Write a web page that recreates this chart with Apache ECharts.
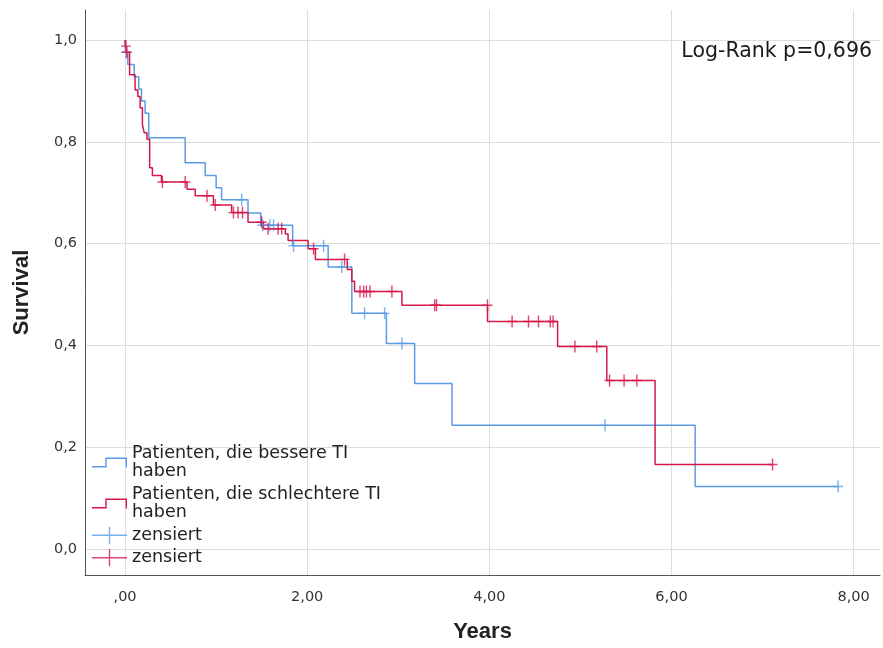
<!DOCTYPE html>
<html><head><meta charset="utf-8">
<script src="https://cdn.jsdelivr.net/npm/echarts@6/dist/echarts.min.js"></script>
<style>html,body{margin:0;padding:0;background:#fff}#c{width:883px;height:648px}</style>
</head><body><div id="c"></div>
<script>
// ---- axis ticks ----
const xTicks = [0, 2, 4, 6, 8];
const xTickLabels = [',00', '2,00', '4,00', '6,00', '8,00'];
const yTicks = [0, 0.2, 0.4, 0.6, 0.8, 1.0];
const yTickLabels = ['0,0', '0,2', '0,4', '0,6', '0,8', '1,0'];

// ---- legend ----
const seriesNames = ['better', 'worse', 'zensiert', 'zensiert '];
const legendLabels = ['Patienten, die bessere TI\nhaben', 'Patienten, die schlechtere TI\nhaben', 'zensiert', 'zensiert'];

// ---- group 1: Patienten, die bessere TI haben (step change times / survival) ----
const betterTimes = [0, 0.004, 0.03, 0.10, 0.15, 0.18, 0.22, 0.26, 0.66, 0.88, 1.00, 1.06, 1.35, 1.49, 1.84, 2.23, 2.49, 2.87, 3.18, 3.59, 6.26, 7.83];
const betterSurv  = [1.0, 0.976, 0.952, 0.928, 0.904, 0.880, 0.856, 0.808, 0.759, 0.734, 0.710, 0.686, 0.660, 0.636, 0.596, 0.554, 0.463, 0.404, 0.325, 0.243, 0.123, 0.123];
const betterCensTimes = [0.01, 1.28, 1.51, 1.59, 1.63, 1.85, 2.18, 2.38, 2.63, 2.85, 3.04, 5.27, 7.83];
const betterCensSurv  = [0.976, 0.686, 0.636, 0.636, 0.636, 0.596, 0.596, 0.554, 0.463, 0.463, 0.404, 0.243, 0.123];

// ---- group 2: Patienten, die schlechtere TI haben ----
const worseTimes = [0, 0.005, 0.02, 0.05, 0.11, 0.14, 0.165, 0.19, 0.21, 0.24, 0.27, 0.30, 0.40, 0.68, 0.77, 0.97, 1.17, 1.35, 1.52, 1.76, 1.79, 2.01, 2.09, 2.44, 2.49, 2.52, 3.04, 3.98, 4.75, 5.29, 5.82, 7.11];
const worseSurv  = [1.0, 0.988, 0.976, 0.932, 0.902, 0.889, 0.867, 0.834, 0.818, 0.805, 0.749, 0.734, 0.721, 0.707, 0.694, 0.676, 0.661, 0.642, 0.629, 0.619, 0.606, 0.590, 0.569, 0.549, 0.526, 0.506, 0.479, 0.447, 0.398, 0.331, 0.166, 0.166];
const worseCensTimes = [0.01, 0.02, 0.41, 0.66, 0.90, 0.99, 1.19, 1.24, 1.29, 1.50, 1.57, 1.68, 1.72, 2.07, 2.41, 2.58, 2.62, 2.65, 2.69, 2.93, 3.40, 3.42, 3.98, 4.25, 4.43, 4.54, 4.67, 4.70, 4.94, 5.18, 5.32, 5.48, 5.62, 7.11];
const worseCensSurv  = [0.988, 0.976, 0.721, 0.721, 0.694, 0.676, 0.661, 0.661, 0.661, 0.642, 0.629, 0.629, 0.629, 0.590, 0.569, 0.506, 0.506, 0.506, 0.506, 0.506, 0.479, 0.479, 0.479, 0.447, 0.447, 0.447, 0.447, 0.447, 0.398, 0.398, 0.331, 0.331, 0.331, 0.166];

const BLUE = '#5a9be6';
const RED = '#d6174a';
const zip = (a, b) => a.map((v, i) => [v, b[i]]);
const lookup = (ticks, labels) => v => {
  for (let i = 0; i < ticks.length; i++) if (Math.abs(ticks[i] - v) < 1e-9) return labels[i];
  return '';
};
const PLUS = 'path://M4.3,0H5.7V12H4.3ZM0,5.3H10V6.7H0Z';
const STEP_ICON = 'path://M0,8.6H13.3V0H35V10H33.6V1.4H14.7V10H0Z';
const PLUS_ICON = 'path://M0,7.8H35V9.2H0ZM16.8,0H18.2V17H16.8Z';
const FONT = 'DejaVu Sans';

const chart = echarts.init(document.getElementById('c'), null, {renderer: 'canvas'});
chart.setOption({
  animation: false,
  backgroundColor: '#fff',
  title: {
    text: 'Log-Rank p=0,696', right: 6, top: 36,
    textStyle: {fontFamily: FONT, fontSize: 20.5, fontWeight: 'normal', color: '#1a1a1a'}
  },
  grid: {left: 85, right: 3, top: 10, bottom: 67},
  legend: {
    orient: 'vertical', left: 87, top: 439,
    itemWidth: 35, itemHeight: 17, itemGap: 4,
    itemStyle: {borderWidth: 0},
    textStyle: {fontFamily: FONT, fontSize: 17.5, lineHeight: 18.5, color: '#222'},
    formatter: name => legendLabels[seriesNames.indexOf(name)],
    data: [
      {name: seriesNames[0], icon: STEP_ICON},
      {name: seriesNames[1], icon: STEP_ICON},
      {name: seriesNames[2], icon: PLUS_ICON},
      {name: seriesNames[3], icon: PLUS_ICON}
    ]
  },
  xAxis: {
    type: 'value', min: -0.44, max: 8.29,
    name: 'Years', nameLocation: 'middle', nameGap: 46,
    nameTextStyle: {fontFamily: 'Liberation Sans', fontSize: 22, fontWeight: 'bold', color: '#222'},
    axisLine: {show: true, onZero: false, lineStyle: {color: '#555', width: 1}},
    axisTick: {show: false, customValues: xTicks},
    axisLabel: {customValues: xTicks, formatter: lookup(xTicks, xTickLabels), fontFamily: FONT, fontSize: 14.5, color: '#333', margin: 15},
    splitLine: {show: true, lineStyle: {color: '#dedede', width: 1}}
  },
  yAxis: {
    type: 'value', min: -0.051, max: 1.059,
    name: 'Survival', nameLocation: 'middle', nameGap: 52,
    nameTextStyle: {fontFamily: 'Liberation Sans', fontSize: 22, fontWeight: 'bold', color: '#222'},
    axisLine: {show: true, onZero: false, lineStyle: {color: '#555', width: 1}},
    axisTick: {show: false, customValues: yTicks},
    axisLabel: {customValues: yTicks, formatter: lookup(yTicks, yTickLabels), fontFamily: FONT, fontSize: 14.5, color: '#333', margin: 8},
    splitLine: {show: true, lineStyle: {color: '#dedede', width: 1}}
  },
  series: [
    {name: seriesNames[0], type: 'line', step: 'end', showSymbol: false, color: BLUE,
     lineStyle: {width: 1.5, color: BLUE}, data: zip(betterTimes, betterSurv), z: 3},
    {name: seriesNames[1], type: 'line', step: 'end', showSymbol: false, color: RED,
     lineStyle: {width: 1.5, color: RED}, data: zip(worseTimes, worseSurv), z: 4},
    {name: seriesNames[2], type: 'scatter', symbol: PLUS, symbolSize: [10, 12], color: BLUE,
     itemStyle: {color: BLUE}, data: zip(betterCensTimes, betterCensSurv), z: 5},
    {name: seriesNames[3], type: 'scatter', symbol: PLUS, symbolSize: [10, 12], color: RED,
     itemStyle: {color: RED}, data: zip(worseCensTimes, worseCensSurv), z: 6}
  ]
});
</script>
</body></html>
